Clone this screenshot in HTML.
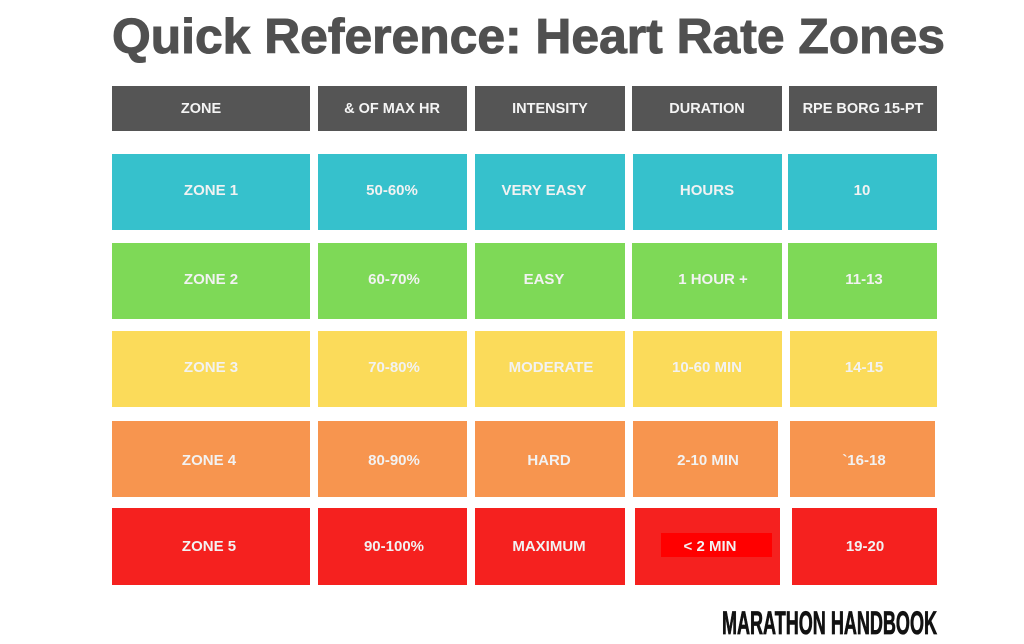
<!DOCTYPE html>
<html><head><meta charset="utf-8"><style>
html,body{margin:0;padding:0;background:#fff;width:1024px;height:644px;overflow:hidden}
text{font-family:"Liberation Sans",sans-serif;font-weight:bold}
</style></head><body>
<svg width="1024" height="644" viewBox="0 0 1024 644" xmlns="http://www.w3.org/2000/svg">
<rect width="1024" height="644" fill="#fff"/>
<text x="112" y="53" font-size="49" fill="#505050" stroke="#505050" stroke-width="1" textLength="833" lengthAdjust="spacingAndGlyphs">Quick Reference: Heart Rate Zones</text>
<g fill="#555">
<rect x="112" y="86" width="198" height="45"/><rect x="318" y="86" width="149" height="45"/><rect x="475" y="86" width="150" height="45"/><rect x="632" y="86" width="150" height="45"/><rect x="789" y="86" width="148" height="45"/>
</g>
<g font-size="14.5" fill="#f4f4f4" text-anchor="middle">
<text x="201" y="113">ZONE</text><text x="392" y="113">&amp; OF MAX HR</text><text x="550" y="113">INTENSITY</text><text x="707" y="113">DURATION</text><text x="863" y="113">RPE BORG 15-PT</text>
</g>
<g fill="#36c1cc"><rect x="112" y="154" width="198" height="76"/><rect x="318" y="154" width="149" height="76"/><rect x="475" y="154" width="150" height="76"/><rect x="633" y="154" width="149" height="76"/><rect x="788" y="154" width="149" height="76"/></g>
<g fill="#7ed957"><rect x="112" y="243" width="198" height="76"/><rect x="318" y="243" width="149" height="76"/><rect x="475" y="243" width="150" height="76"/><rect x="632" y="243" width="150" height="76"/><rect x="788" y="243" width="149" height="76"/></g>
<g fill="#fbdb5a"><rect x="112" y="331" width="198" height="76"/><rect x="318" y="331" width="149" height="76"/><rect x="475" y="331" width="150" height="76"/><rect x="633" y="331" width="149" height="76"/><rect x="790" y="331" width="147" height="76"/></g>
<g fill="#f7954f"><rect x="112" y="421" width="198" height="76"/><rect x="318" y="421" width="149" height="76"/><rect x="475" y="421" width="150" height="76"/><rect x="633" y="421" width="145" height="76"/><rect x="790" y="421" width="145" height="76"/></g>
<g fill="#f5211f"><rect x="112" y="508" width="198" height="77"/><rect x="318" y="508" width="149" height="77"/><rect x="475" y="508" width="150" height="77"/><rect x="635" y="508" width="145" height="77"/><rect x="792" y="508" width="145" height="77"/></g>
<rect x="661" y="533" width="111" height="24" fill="#ff0000"/>
<g font-size="15" fill="#f2f2f2" text-anchor="middle">
<text x="211" y="195">ZONE 1</text><text x="392" y="195">50-60%</text><text x="544" y="195">VERY EASY</text><text x="707" y="195">HOURS</text><text x="862" y="195">10</text>
<text x="211" y="284">ZONE 2</text><text x="394" y="284">60-70%</text><text x="544" y="284">EASY</text><text x="713" y="284">1 HOUR +</text><text x="864" y="284">11-13</text>
<text x="211" y="372">ZONE 3</text><text x="394" y="372">70-80%</text><text x="551" y="372">MODERATE</text><text x="707" y="372">10-60 MIN</text><text x="864" y="372">14-15</text>
<text x="209" y="465">ZONE 4</text><text x="394" y="465">80-90%</text><text x="549" y="465">HARD</text><text x="708" y="465">2-10 MIN</text><text x="864" y="465">`16-18</text>
<text x="209" y="551">ZONE 5</text><text x="394" y="551">90-100%</text><text x="549" y="551">MAXIMUM</text><text x="710" y="551">&lt; 2 MIN</text><text x="865" y="551">19-20</text>
</g>
<text x="722" y="634" font-size="32" fill="#111" stroke="#111" stroke-width="0.8" textLength="215" lengthAdjust="spacingAndGlyphs">MARATHON HANDBOOK</text>
</svg>
</body></html>
